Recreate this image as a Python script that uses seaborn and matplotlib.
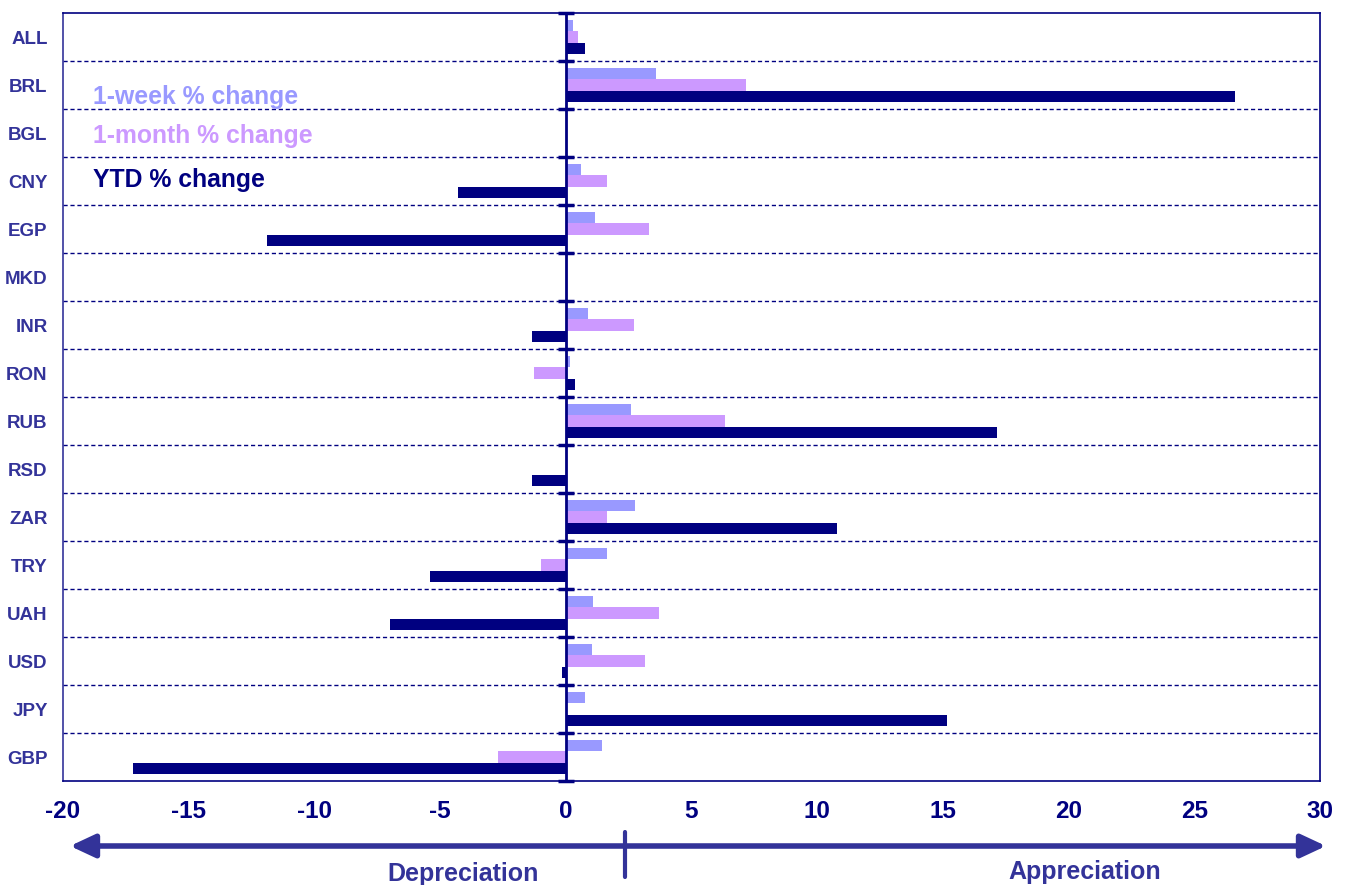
import matplotlib
matplotlib.use("Agg")
import matplotlib.pyplot as plt
import seaborn as sns
import pandas as pd
import numpy as np

categories = ["ALL", "BRL", "BGL", "CNY", "EGP", "MKD", "INR", "RON", "RUB",
              "RSD", "ZAR", "TRY", "UAH", "USD", "JPY", "GBP"]
week = [0.28, 3.6, np.nan, 0.6, 1.15, np.nan, 0.87, 0.15, 2.6,
        np.nan, 2.75, 1.63, 1.1, 1.05, 0.75, 1.45]
month = [0.5, 7.15, np.nan, 1.65, 3.3, np.nan, 2.7, -1.25, 6.35,
         np.nan, 1.65, -1.0, 3.7, 3.15, np.nan, -2.7]
ytd = [0.75, 26.6, np.nan, -4.3, -11.9, np.nan, -1.35, 0.35, 17.15,
       -1.35, 10.8, -5.4, -7.0, -0.17, 15.15, -17.2]
series_names = ["1-week % change", "1-month % change", "YTD % change"]
colors = ["#9999FF", "#CC99FF", "#000080"]
xticks = [-20, -15, -10, -5, 0, 5, 10, 15, 20, 25, 30]

df = pd.DataFrame({
    "cur": categories * 3,
    "series": sum([[s] * len(categories) for s in series_names], []),
    "value": week + month + ytd,
})

sns.set_style("white")
plt.rcParams["font.family"] = ["Liberation Sans", "DejaVu Sans"]

fig = plt.figure(figsize=(13.5, 8.85), dpi=100)
ax = fig.add_axes([63 / 1350, 1 - 781 / 885, (1320 - 63) / 1350, (781 - 13) / 885])

sns.barplot(data=df, y="cur", x="value", hue="series", order=categories,
            hue_order=series_names, palette=colors, orient="h", width=0.69,
            saturation=1, errorbar=None, linewidth=0, ax=ax, legend=False)

ax.set_xlim(-20, 30)
ax.set_ylim(len(categories) - 0.5, -0.5)
ax.set_xticks(xticks)
ax.set_xticklabels([str(t) for t in xticks])
ax.set_xlabel("")
ax.set_ylabel("")

for sp in ax.spines.values():
    sp.set_color("#000080")
    sp.set_linewidth(1.2)
ax.spines["left"].set_color("#333399")

ax.tick_params(axis="x", colors="#000080", length=6, width=1.2, direction="out",
               pad=8)
for lab in ax.get_xticklabels():
    lab.set_fontweight("bold")
    lab.set_color("#000080")
    lab.set_fontsize(17.5)
ax.tick_params(axis="y", length=0, pad=11, labelsize=13.5, labelcolor="#333399")
for lab in ax.get_yticklabels():
    lab.set_fontweight("bold")

bounds = np.arange(len(categories) + 1) - 0.5
for b in bounds[1:-1]:
    ax.axhline(b, color="#000080", lw=1, ls=(0, (3, 2)), zorder=1)
ax.axvline(0, color="#000080", lw=2, zorder=4)
ax.plot([0] * len(bounds), bounds, ls="none", marker="_", ms=12, mew=2.5,
        color="#000080", zorder=5, clip_on=False)

leg_y = [97, 136, 180]
for name, c, yy in zip(series_names, colors, leg_y):
    fig.text(93 / 1350, 1 - yy / 885, name, color=c, fontsize=17.8,
             fontweight="bold", va="center", ha="left")

# Depreciation / Appreciation arrows
ay = 1 - 846 / 885
sx = 625 / 1350
for xe in (70 / 1350, 1326 / 1350):
    fig.add_artist(matplotlib.patches.FancyArrowPatch(
        (sx, ay), (xe, ay), transform=fig.transFigure,
        arrowstyle="-|>,head_length=15,head_width=7", color="#333399", lw=4,
        mutation_scale=1, shrinkA=0, shrinkB=0))
fig.add_artist(matplotlib.lines.Line2D([sx, sx], [1 - 832 / 885, 1 - 877 / 885],
                                       transform=fig.transFigure, color="#333399", lw=3))
fig.text(463 / 1350, 1 - 874 / 885, "Depreciation", color="#333399", fontsize=18,
         fontweight="bold", ha="center", va="center")
fig.text(1085 / 1350, 1 - 872 / 885, "Appreciation", color="#333399", fontsize=18,
         fontweight="bold", ha="center", va="center")

fig.savefig("out.png", dpi=100, facecolor="white")
